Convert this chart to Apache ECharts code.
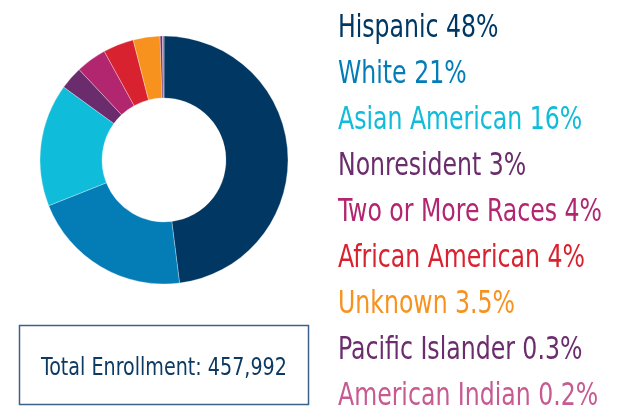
<!DOCTYPE html>
<html>
<head>
<meta charset="utf-8">
<script src="https://cdn.jsdelivr.net/npm/echarts@6/dist/echarts.min.js"></script>
<style>
  html, body { margin: 0; padding: 0; background: #fff; }
  #chart { width: 621px; height: 409px; }
</style>
</head>
<body>
<div id="chart"></div>
<script>
// enrollment share by group
const categories = ['Hispanic', 'White', 'Asian American', 'Nonresident', 'Two or More Races',
  'African American', 'Unknown', 'Pacific Islander', 'American Indian']
const values = [48, 21, 16, 3, 4, 4, 3.5, 0.3, 0.2]
const colors = ['#003863', '#047db7', '#0fbcd9', '#6a2c6c', '#b1266f',
  '#d9222f', '#f7921e', '#6c2d6e', '#c65b92']
const totalLabel = 'Total Enrollment: 457,992'

// no narrow font installed, so condensed text is squeezed a bit more
const fontName = '"DejaVu Sans Condensed", sans-serif'

let pieData = categories.map((name, i) => ({
  name: name,
  value: values[i],
  itemStyle: { color: colors[i] }
}))

// legend column on the right, one line per group
let legendTexts = categories.map((name, i) => ({
  type: 'text',
  x: 338,
  y: 29 + i * 45.9,
  scaleX: 0.82,
  style: {
    text: name + ' ' + values[i] + '%',
    fill: colors[i],
    font: '32px ' + fontName,
    align: 'left',
    verticalAlign: 'middle'
  }
}))

let option = {
  animation: false,
  series: [
    {
      type: 'pie',
      center: [164, 160],
      radius: [62, 124],
      startAngle: 90,
      clockwise: true,
      label: { show: false },
      labelLine: { show: false },
      itemStyle: {
        borderColor: 'rgba(255,255,255,0.6)',
        borderWidth: 0.5
      },
      emphasis: { disabled: true },
      data: pieData
    }
  ],
  graphic: legendTexts.concat([
    {
      type: 'rect',
      shape: { x: 19.5, y: 325.5, width: 289, height: 79 },
      style: { fill: '#fff', stroke: '#3d6189', lineWidth: 1.5 }
    },
    {
      type: 'text',
      x: 164,
      y: 368,
      scaleX: 0.85,
      style: {
        text: totalLabel,
        fill: '#0d3a63',
        font: '25px ' + fontName,
        align: 'center',
        verticalAlign: 'middle'
      }
    }
  ])
}

let dom = echarts.init(document.getElementById('chart'))
dom.setOption(option)
</script>
</body>
</html>
